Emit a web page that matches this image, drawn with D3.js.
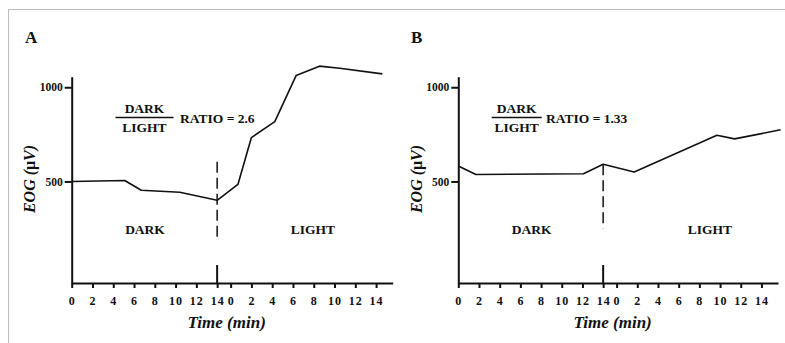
<!DOCTYPE html>
<html><head><meta charset="utf-8">
<script src="https://cdn.jsdelivr.net/npm/d3@7"></script>
<style>
html,body{margin:0;padding:0;background:#fff;}
svg{display:block;}
text{font-family:"Liberation Serif","Times New Roman",serif;font-weight:bold;fill:#111;}
</style></head>
<body>
<svg id="chart" width="785" height="343"></svg>
<script>
// ---- data ----
const panelLetters = ["A", "B"];
const ratios = ["2.6", "1.33"];
const tickValues = [0, 2, 4, 6, 8, 10, 12, 14];
const yTicks = [500, 1000];
const phaseLabels = ["DARK", "LIGHT"];

const darkTimeA = [0, 5.1, 6.7, 10.4, 14];
const darkEogA  = [500, 505, 453, 443, 400];
const lightTimeA = [0.7, 2.0, 4.25, 6.3, 8.55, 10.5, 14.6];
const lightEogA  = [484, 733, 818, 1062, 1112, 1101, 1071];

const darkTimeB = [0, 1.7, 12.1, 14];
const darkEogB  = [582, 537, 541, 591];
const lightTimeB = [1.7, 9.7, 11.4, 15.85];
const lightEogB  = [550, 745, 726, 774];

// ---- layout ----
const LIGHT_OFFSET = 15.3;   // light-phase time 0 on the shared axis
const X_MAX = 30.9;
const Y_MIN = -39, Y_MAX = 1056;

const svg = d3.select("#chart");

// frame
svg.append("line").attr("x1", 8.5).attr("x2", 785).attr("y1", 9.5).attr("y2", 9.5)
  .attr("stroke", "#bdbdbd").attr("stroke-width", 1);
svg.append("line").attr("x1", 8.5).attr("x2", 8.5).attr("y1", 9.5).attr("y2", 343)
  .attr("stroke", "#bdbdbd").attr("stroke-width", 1);

const panels = [
  {left: 71.7, right: 392.7, dark: [darkTimeA, darkEogA], light: [lightTimeA, lightEogA],
   letterX: 25, fracX: 144.5, fracHalf: 29, ratioX: 180, divTop: 605, divBot: 185,
   darkLblX: 145, lightLblX: 313, ylabX: 35},
  {left: 458.3, right: 778, dark: [darkTimeB, darkEogB], light: [lightTimeB, lightEogB],
   letterX: 411, fracX: 516.7, fracHalf: 25, ratioX: 546, divTop: 591, divBot: 250,
   darkLblX: 531.7, lightLblX: 710, ylabX: 422}
];

panels.forEach((p, i) => {
  const g = svg.append("g");
  const x = d3.scaleLinear().domain([0, X_MAX]).range([p.left, p.right]);
  const y = d3.scaleLinear().domain([Y_MIN, Y_MAX]).range([283, 76.7]);

  // x axis
  const xTicksAll = tickValues.concat(tickValues.map(v => v + LIGHT_OFFSET));
  const xAxis = d3.axisBottom(x).tickValues(xTicksAll).tickSize(5).tickPadding(8.5)
    .tickSizeOuter(0)
    .tickFormat(v => v >= LIGHT_OFFSET ? String(Math.round(v - LIGHT_OFFSET)) : String(v));
  const gx = g.append("g").attr("transform", `translate(0,${y(Y_MIN)})`).call(xAxis);
  gx.select(".domain").attr("stroke", "#111").attr("stroke-width", 2);
  gx.selectAll(".tick line").attr("stroke", "#111").attr("stroke-width", 2);
  gx.selectAll(".tick text").attr("font-size", 12).attr("fill", "#111")
    .attr("font-family", "Liberation Serif, serif").attr("font-weight", "bold")
    .attr("letter-spacing", 1);

  // y axis
  const yAxis = d3.axisLeft(y).tickValues(yTicks).tickSize(7).tickPadding(2).tickSizeOuter(0)
    .tickFormat(d3.format("d"));
  const gy = g.append("g").attr("transform", `translate(${p.left},0)`).call(yAxis);
  gy.select(".domain").attr("stroke", "#111").attr("stroke-width", 2);
  gy.selectAll(".tick line").attr("stroke", "#111").attr("stroke-width", 2);
  gy.selectAll(".tick text").attr("font-size", 11.5).attr("fill", "#111")
    .attr("font-family", "Liberation Serif, serif").attr("font-weight", "bold");

  // divider at 14 min (solid part on axis + dashed part)
  g.append("line").attr("x1", x(14)).attr("x2", x(14))
    .attr("y1", y(Y_MIN)).attr("y2", y(Y_MIN) - 18)
    .attr("stroke", "#111").attr("stroke-width", 2);
  g.append("line").attr("x1", x(14)).attr("x2", x(14))
    .attr("y1", y(p.divTop)).attr("y2", y(p.divBot))
    .attr("stroke", "#111").attr("stroke-width", 1.5).attr("stroke-dasharray", "11,5");

  // data line
  const pts = p.dark[0].map((t, k) => [t, p.dark[1][k]])
    .concat(p.light[0].map((t, k) => [t + LIGHT_OFFSET, p.light[1][k]]));
  g.append("path").datum(pts)
    .attr("d", d3.line().x(d => x(d[0])).y(d => y(d[1])))
    .attr("fill", "none").attr("stroke", "#111").attr("stroke-width", 1.6)
    .attr("stroke-linejoin", "round");

  // panel letter
  g.append("text").attr("x", p.letterX).attr("y", 43).attr("font-size", 17).text(panelLetters[i]);

  // fraction
  g.append("text").attr("x", p.fracX).attr("y", 113).attr("text-anchor", "middle")
    .attr("font-size", 13.5).text(phaseLabels[0]);
  g.append("line").attr("x1", p.fracX - p.fracHalf).attr("x2", p.fracX + p.fracHalf)
    .attr("y1", 117.5).attr("y2", 117.5).attr("stroke", "#111").attr("stroke-width", 1.3);
  g.append("text").attr("x", p.fracX).attr("y", 131.5).attr("text-anchor", "middle")
    .attr("font-size", 13.5).text(phaseLabels[1]);
  g.append("text").attr("x", p.ratioX).attr("y", 122.5).attr("font-size", 13.5)
    .text("RATIO = " + ratios[i]);

  // phase labels
  g.append("text").attr("x", p.darkLblX).attr("y", 234).attr("text-anchor", "middle")
    .attr("font-size", 13.5).text(phaseLabels[0]);
  g.append("text").attr("x", p.lightLblX).attr("y", 234).attr("text-anchor", "middle")
    .attr("font-size", 13.5).text(phaseLabels[1]);

  // axis titles
  g.append("text").attr("x", (x(0) + x(X_MAX)) / 2 - 5.5).attr("y", 328).attr("text-anchor", "middle")
    .attr("font-size", 17).attr("font-style", "italic").text("Time (min)");
  const yl = g.append("text").attr("transform", `translate(${p.ylabX},179) rotate(-90)`)
    .attr("text-anchor", "middle").attr("font-size", 16);
  yl.append("tspan").attr("font-style", "italic").text("EOG (");
  yl.append("tspan").text("\u03bc");
  yl.append("tspan").attr("font-style", "italic").text("V)");
});
</script>
</body></html>
